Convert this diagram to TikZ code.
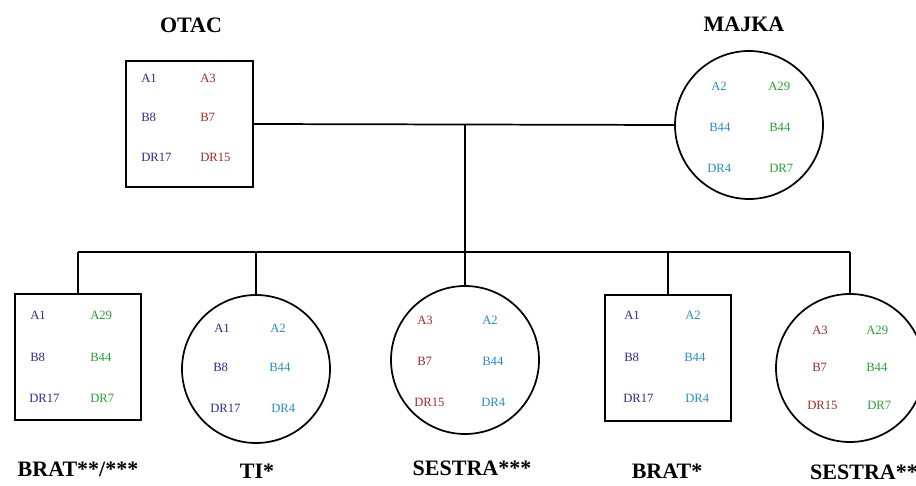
\documentclass[tikz,border=0pt]{standalone}
\usepackage{fontspec}
\setmainfont{Liberation Serif}
\definecolor{fa}{RGB}{45,45,140}
\definecolor{fb}{RGB}{165,40,40}
\definecolor{ma}{RGB}{40,140,200}
\definecolor{mb}{RGB}{40,160,50}
\newcommand{\hla}[5]{\node[al,text=#4] (#1) at (#2,#3) {#5};}
\begin{document}
\begin{tikzpicture}[x=0.75pt,y=-0.75pt,
  sq/.style={draw, line width=1.3pt, minimum width=95pt, minimum height=94pt, inner sep=0pt},
  ci/.style={draw, circle, line width=1.3pt, minimum size=111pt, inner sep=0pt},
  al/.style={anchor=west, font=\fontsize{9.5}{11}\selectfont, inner sep=0pt},
  lab/.style={font=\fontsize{16.5}{18}\selectfont\bfseries, inner sep=0pt},
  ln/.style={line width=1.3pt}]
\useasboundingbox (0,0) rectangle (916,485);
% parents
\node[sq] (otac) at (189.5,124) {};
\node[ci] (majka) at (749,125) {};
\node[lab] (otacl) at (191,25) {OTAC};
\node[lab] (majkal) at (744,24) {MAJKA};
% children
\node[sq] (brat1) at (78,357) {};
\node[ci] (ti) at (256,369) {};
\node[ci] (ses1) at (465,360) {};
\node[sq] (brat2) at (668,358) {};
\node[ci] (ses2) at (850,368) {};
\node[lab] (brat1l) at (78,469) {BRAT**/***};
\node[lab] (til) at (257,471) {TI*};
\node[lab] (ses1l) at (472,468) {SESTRA***};
\node[lab] (brat2l) at (667,471) {BRAT*};
\node[lab] (ses2l) at (864,472) {SESTRA**};
% connectors
\coordinate (mid) at (465,125);
\coordinate (bar) at (465,252);
\draw[ln] (otac.east) -- (majka.west);
\draw[ln] (mid) -- (bar);
\draw[ln] (brat1.north |- bar) -- (ses2.north |- bar);
\foreach \c in {brat1,ti,ses1,brat2,ses2}{
  \draw[ln] (\c.north) -- (\c.north |- bar);
}
% OTAC alleles
\hla{o1}{141}{78}{fa}{A1}
\hla{o2}{200}{78}{fb}{A3}
\hla{o3}{141}{117}{fa}{B8}
\hla{o4}{200}{117}{fb}{B7}
\hla{o5}{141}{157}{fa}{DR17}
\hla{o6}{200}{157}{fb}{DR15}
% MAJKA alleles
\hla{m1}{711}{86}{ma}{A2}
\hla{m2}{768}{86}{mb}{A29}
\hla{m3}{709}{127}{ma}{B44}
\hla{m4}{769}{127}{mb}{B44}
\hla{m5}{707}{168}{ma}{DR4}
\hla{m6}{769}{168}{mb}{DR7}
% BRAT**/***
\hla{b1}{30}{315}{fa}{A1}
\hla{b2}{90}{315}{mb}{A29}
\hla{b3}{30}{357}{fa}{B8}
\hla{b4}{90}{357}{mb}{B44}
\hla{b5}{29}{398}{fa}{DR17}
\hla{b6}{90}{398}{mb}{DR7}
% TI*
\hla{t1}{214}{328}{fa}{A1}
\hla{t2}{270}{328}{ma}{A2}
\hla{t3}{213}{367}{fa}{B8}
\hla{t4}{269}{367}{ma}{B44}
\hla{t5}{210}{408}{fa}{DR17}
\hla{t6}{271}{408}{ma}{DR4}
% SESTRA***
\hla{s1}{417}{320}{fb}{A3}
\hla{s2}{482}{320}{ma}{A2}
\hla{s3}{417}{361}{fb}{B7}
\hla{s4}{482}{361}{ma}{B44}
\hla{s5}{414}{402}{fb}{DR15}
\hla{s6}{481}{402}{ma}{DR4}
% BRAT*
\hla{r1}{624}{315}{fa}{A1}
\hla{r2}{685}{315}{ma}{A2}
\hla{r3}{624}{357}{fa}{B8}
\hla{r4}{684}{357}{ma}{B44}
\hla{r5}{623}{398}{fa}{DR17}
\hla{r6}{685}{398}{ma}{DR4}
% SESTRA**
\hla{q1}{812}{330}{fb}{A3}
\hla{q2}{866}{330}{mb}{A29}
\hla{q3}{812}{367}{fb}{B7}
\hla{q4}{866}{367}{mb}{B44}
\hla{q5}{807}{405}{fb}{DR15}
\hla{q6}{867}{405}{mb}{DR7}
\end{tikzpicture}
\end{document}
